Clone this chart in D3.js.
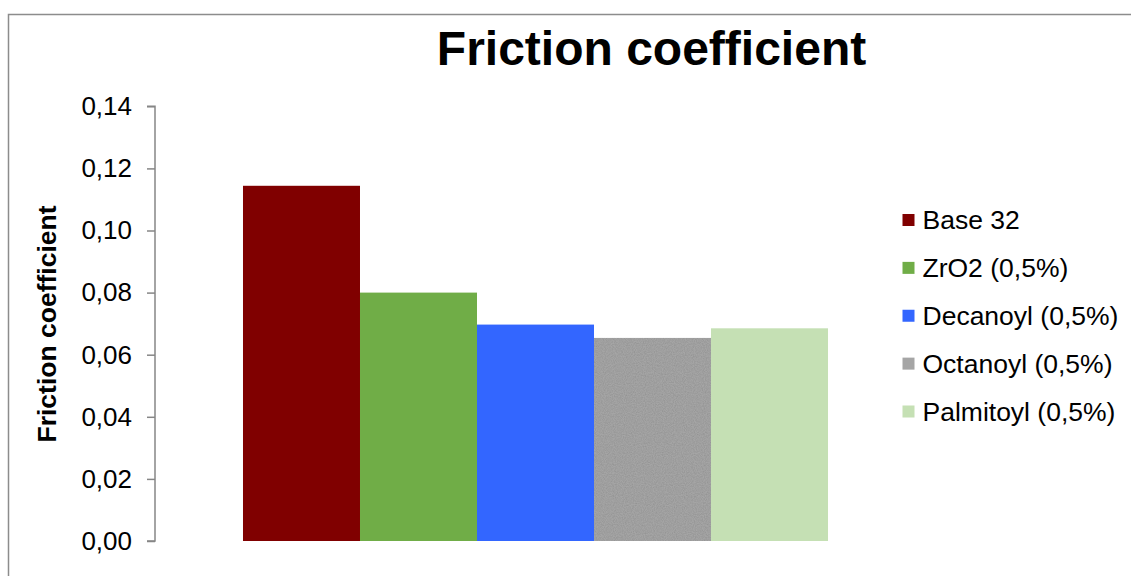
<!DOCTYPE html>
<html>
<head>
<meta charset="utf-8">
<script src="https://cdn.jsdelivr.net/npm/d3@7"></script>
<style>
  html, body { margin: 0; padding: 0; background: #fff; }
  svg { display: block; font-family: "Liberation Sans", Arial, sans-serif; }
</style>
</head>
<body>
<svg id="chart" width="1131" height="576"></svg>
<script>
// Friction coefficient by lubricant sample
const categories = ["Friction coefficient"];
const seriesNames = ["Base 32", "ZrO2 (0,5%)", "Decanoyl (0,5%)", "Octanoyl (0,5%)", "Palmitoyl (0,5%)"];
const seriesValues = [0.1144, 0.0800, 0.0697, 0.0654, 0.0685];
const seriesColors = ["#800000", "#70ad47", "#3366ff", "#a5a5a5", "#c5e0b4"];
const yTicks = [0, 0.02, 0.04, 0.06, 0.08, 0.10, 0.12, 0.14];

const svg = d3.select("#chart");
const W = 1131, H = 576;
const plot = { left: 155, right: 916, top: 106.3, bottom: 541 };

// soft grain used on the grey bar
const defs = svg.append("defs");
const grain = defs.append("filter").attr("id", "grain")
  .attr("x", 0).attr("y", 0).attr("width", 1).attr("height", 1);
grain.append("feTurbulence").attr("type", "fractalNoise")
  .attr("baseFrequency", 0.9).attr("numOctaves", 2).attr("seed", 3).attr("result", "noise");
grain.append("feColorMatrix").attr("in", "noise").attr("type", "matrix")
  .attr("values", "0 0 0 0 0  0 0 0 0 0  0 0 0 0 0  0 0 0 0.35 -0.1").attr("result", "speck");
grain.append("feComposite").attr("in", "speck").attr("in2", "SourceGraphic").attr("operator", "in").attr("result", "specks");
grain.append("feMerge").call(m => {
  m.append("feMergeNode").attr("in", "SourceGraphic");
  m.append("feMergeNode").attr("in", "specks");
});

// chart frame
svg.append("rect")
  .attr("x", 8.5).attr("y", 14.5)
  .attr("width", W + 20).attr("height", H + 20)
  .attr("fill", "#fff").attr("stroke", "#8c8c8c").attr("stroke-width", 1.5);

// scales
const y = d3.scaleLinear().domain([0, 0.14]).range([plot.bottom, plot.top]);
const x0 = d3.scaleBand().domain(categories).range([plot.left, plot.right])
  .paddingInner(0).paddingOuter(0.1504);
const x1 = d3.scaleBand().domain(seriesNames).range([0, x0.bandwidth()]).padding(0);

// bars
const g = svg.append("g");
categories.forEach(cat => {
  g.selectAll("rect.bar")
    .data(seriesNames.map((n, i) => ({ name: n, value: seriesValues[i], color: seriesColors[i] })))
    .join("rect")
    .attr("class", "bar")
    .attr("x", d => x0(cat) + x1(d.name))
    .attr("y", d => y(d.value))
    .attr("width", x1.bandwidth())
    .attr("height", d => y(0) - y(d.value))
    .attr("fill", d => d.color)
    .attr("filter", d => d.name.startsWith("Octanoyl") ? "url(#grain)" : null);
});

// y axis
const yAxis = d3.axisLeft(y)
  .tickValues(yTicks)
  .tickSize(8)
  .tickPadding(15)
  .tickFormat(d => d3.format(".2f")(d).replace(".", ","));
const ya = svg.append("g").attr("transform", `translate(${plot.left},0)`).call(yAxis);
ya.select(".domain").attr("stroke", "#868686").attr("stroke-width", 1.5)
  .attr("d", `M-8,${y(0.14)}H0V${y(0)}H-8`);
ya.selectAll(".tick line").attr("stroke", "#868686").attr("stroke-width", 1.5);
ya.selectAll(".tick text")
  .attr("fill", "#000")
  .style("font-family", "'Liberation Sans', Arial, sans-serif")
  .style("font-size", "26px");

// title
svg.append("text")
  .attr("x", 651.5).attr("y", 65)
  .attr("text-anchor", "middle")
  .style("font-size", "48px").style("font-weight", "bold")
  .text("Friction coefficient");

// y axis title
svg.append("text")
  .attr("transform", `translate(56,324) rotate(-90)`)
  .attr("text-anchor", "middle")
  .style("font-size", "26.5px").style("font-weight", "bold")
  .text("Friction coefficient");

// legend
const legendY = d3.scalePoint().domain(seriesNames).range([220, 411.5]);
const lg = svg.append("g");
seriesNames.forEach((n, i) => {
  const cy = legendY(n);
  lg.append("rect")
    .attr("x", 902.5).attr("y", cy - 6)
    .attr("width", 12).attr("height", 12)
    .attr("fill", seriesColors[i]);
  lg.append("text")
    .attr("x", 922.5).attr("y", cy)
    .attr("dy", "0.35em")
    .style("font-size", "26.5px")
    .text(n);
});
</script>
</body>
</html>
